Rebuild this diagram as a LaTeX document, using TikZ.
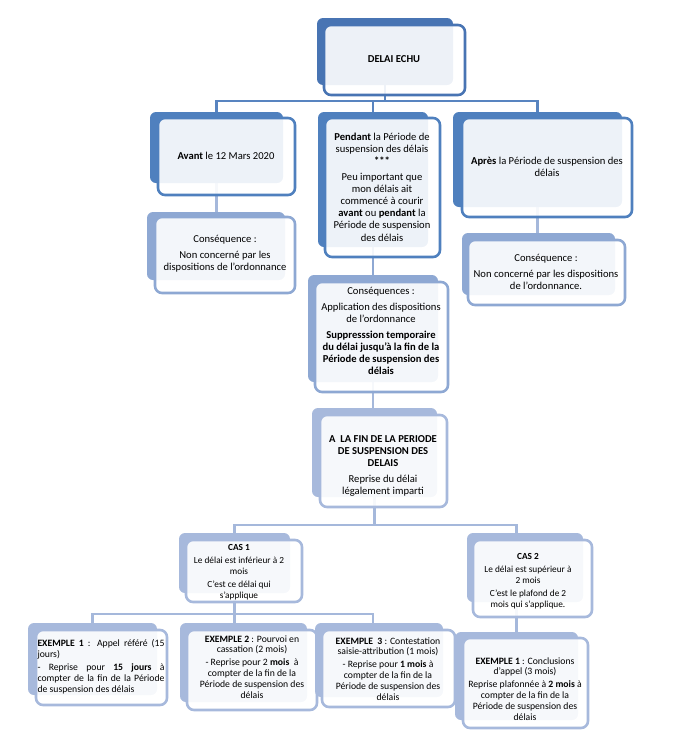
\documentclass[tikz,border=0pt]{standalone}
\usepackage{fontspec}
\setmainfont{Carlito}
\usetikzlibrary{fit}
\pgfdeclarelayer{bg}
\pgfsetlayers{bg,main}
\definecolor{cA}{HTML}{4874B3}
\definecolor{cB}{HTML}{4F80BE}
\definecolor{cC}{HTML}{8EA8D3}
\definecolor{cD}{HTML}{A7B9DC}
\definecolor{lnA}{HTML}{5884C0}
\definecolor{lnB}{HTML}{A5B8DB}
\tikzset{
  backbox/.style={draw=none, rounded corners=6pt, inner sep=0pt, outer sep=0pt},
  frontbox/.style={rounded corners=7pt, line width=2.6pt, fill=white, fill opacity=0.9, inner sep=0pt, outer sep=0pt},
  txt/.style={align=center, inner sep=0pt, font=\fontsize{10.6}{12.1}\selectfont},
  stxt/.style={align=center, inner sep=0pt, font=\fontsize{9.3}{10.9}\selectfont},
  etxt/.style={align=center, inner sep=0pt, font=\fontsize{9.7}{10.9}\selectfont},
  conn/.style={line width=2.8pt},
}
\begin{document}
\begin{tikzpicture}[x=1pt,y=-1pt]
\useasboundingbox (0,0) rectangle (675,755);
% level 1
\node[backbox, fill=cA, fit={(317,18) (453,85)}] (topB) {};
\node[frontbox, draw=cA, fit={(324,25) (465,95)}] (topF) {};
\node[txt] (topT) at (394,59) {\textbf{DELAI ECHU}};
% level 2
\node[backbox, fill=cB, fit={(150,112) (283,183)}] (avB) {};
\node[frontbox, draw=cB, fit={(158,118) (295,195)}] (avF) {};
\node[txt] (avT) at (226,156) {\textbf{Avant} le 12 Mars 2020};
\node[backbox, fill=cB, fit={(318,112) (428,247)}] (peB) {};
\node[frontbox, draw=cB, fit={(325,118) (440,257)}] (peF) {};
\node[txt] (peT) at (382,187) {\textbf{Pendant} la Période de\\ suspension des délais\\ \textbf{***}\\[4pt]
  Peu important que\\ mon délais ait\\ commencé à courir\\ \textbf{avant} ou \textbf{pendant} la\\ Période de suspension\\ des délais};
\node[backbox, fill=cB, fit={(453,112) (622,207)}] (apB) {};
\node[frontbox, draw=cB, fit={(462,118) (632,217)}] (apF) {};
\node[txt] (apT) at (547,167) {\textbf{Après} la Période de suspension des\\ délais};
% consequences
\node[backbox, fill=cC, fit={(147,212) (285,280)}] (cavB) {};
\node[frontbox, draw=cC, fit={(155,217) (295,293)}] (cavF) {};
\node[txt] (cavT) at (225,254) {Conséquence :\\[4pt] Non concerné par les\\ dispositions de l’ordonnance};
\node[backbox, fill=cC, fit={(308,275) (438,382)}] (cpeB) {};
\node[frontbox, draw=cC, fit={(315,282) (448,392)}] (cpeF) {};
\node[txt] (cpeT) at (381,331) {Conséquences :\\[4pt] Application des dispositions\\ de l'ordonnance\\[4pt]
  \textbf{Suppresssion temporaire}\\ \textbf{du délai jusqu'à la fin de la}\\ \textbf{Période de suspension des}\\ \textbf{délais}};
\node[backbox, fill=cC, fit={(462,233) (615,295)}] (capB) {};
\node[frontbox, draw=cC, fit={(468,240) (625,305)}] (capF) {};
\node[txt] (capT) at (546,272) {Conséquence :\\[4pt] Non concerné par les dispositions\\ de l’ordonnance.};
% fin
\node[backbox, fill=cD, fit={(312,408) (437,497)}] (finB) {};
\node[frontbox, draw=cD, fit={(320,415) (447,507)}] (finF) {};
\node[txt] (finT) at (383,466) {\textbf{A\ \ LA FIN DE LA PERIODE}\\ \textbf{DE SUSPENSION DES}\\ \textbf{DELAIS}\\[4pt] Reprise du délai\\ légalement imparti};
% cas
\node[backbox, fill=cD, fit={(179,533) (290,593)}] (cas1B) {};
\node[frontbox, draw=cD, fit={(186,540) (302,602)}] (cas1F) {};
\node[stxt] (cas1T) at (239,572) {\textbf{CAS 1}\\[2pt] Le délai est inférieur à 2\\ mois\\[2pt] C'est ce délai qui\\ s'applique};
\node[backbox, fill=cD, fit={(467,533) (583,602)}] (cas2B) {};
\node[frontbox, draw=cD, fit={(473,540) (592,617)}] (cas2F) {};
\node[stxt] (cas2T) at (528,581) {\textbf{CAS 2}\\[2pt] Le délai est supérieur à\\ 2 mois\\[2pt] C'est le plafond de 2\\ mois qui s'applique.};
% examples
\node[backbox, fill=cD, fit={(28,623) (157,695)}] (ex1B) {};
\node[frontbox, draw=cD, fit={(36,630) (167,705)}] (ex1F) {};
\node[etxt, align=justify, text width=127pt] (ex1T) at (101,667) {\textbf{EXEMPLE 1} : Appel référé (15\linebreak jours)\\[2pt]
  - Reprise pour \textbf{15 jours} à\linebreak compter de la fin de la Période\linebreak de suspension des délais};
\node[backbox, fill=cD, fit={(180,623) (307,702)}] (ex2B) {};
\node[frontbox, draw=cD, fit={(187,630) (317,710)}] (ex2F) {};
\node[etxt] (ex2T) at (252,667) {\textbf{EXEMPLE 2} : Pourvoi en\\ cassation (2 mois)\\[2pt] - Reprise pour 2 \textbf{mois}\ \ à\\ compter de la fin de la\\ Période de suspension des\\ délais};
\node[backbox, fill=cD, fit={(315,623) (443,697)}] (ex3B) {};
\node[frontbox, draw=cD, fit={(322,630) (455,707)}] (ex3F) {};
\node[etxt] (ex3T) at (388,669) {\textbf{EXEMPLE\ \ 3} : Contestation\\ saisie-attribution (1 mois)\\[2pt] - Reprise pour \textbf{1 mois} à\\ compter de la fin de la\\ Période de suspension des\\ délais};
\node[backbox, fill=cD, fit={(455,632) (578,720)}] (ex4B) {};
\node[frontbox, draw=cD, fit={(463,638) (588,728)}] (ex4F) {};
\node[etxt] (ex4T) at (525,689) {\textbf{EXEMPLE 1} : Conclusions\\ d'appel (3 mois)\\[2pt] Reprise plafonnée à \textbf{2 mois} à\\ compter de la fin de la\\ Période de suspension des\\ délais};
% connectors
\coordinate (j1) at (385,101);
\coordinate (j2) at (375,525);
\coordinate (j3) at (233,614);
\coordinate (j4) at (373,614);
\begin{pgfonlayer}{bg}
\draw[conn, lnA] (topB.center) -- (topB.center |- j1);
\draw[conn, lnA] (avB.center) |- (j1) -| (apB.center);
\draw[conn, lnA] (peB.center) -- (peB.center |- j1);
\draw[conn, lnB] (avB.center) -- (avB.center |- cavB.center);
\draw[conn, cC] (peB.center) -- (peB.center |- cpeB.center);
\draw[conn, lnB] (apB.center) -- (apB.center |- capB.center);
\draw[conn, lnB] (cpeB.center) -- (cpeB.center |- finB.center);
\draw[conn, lnB] (finB.center) -- (finB.center |- j2);
\draw[conn, lnB] (cas1B.center) |- (j2) -| (ex4B.center);
\draw[conn, lnB] (cas1B.center) -- (cas1B.center |- ex2B.center);
\draw[conn, lnB] (ex1B.center) |- (j3) -- (j4) -- (j4 |- ex3B.center);
\end{pgfonlayer}
\end{tikzpicture}
\end{document}
